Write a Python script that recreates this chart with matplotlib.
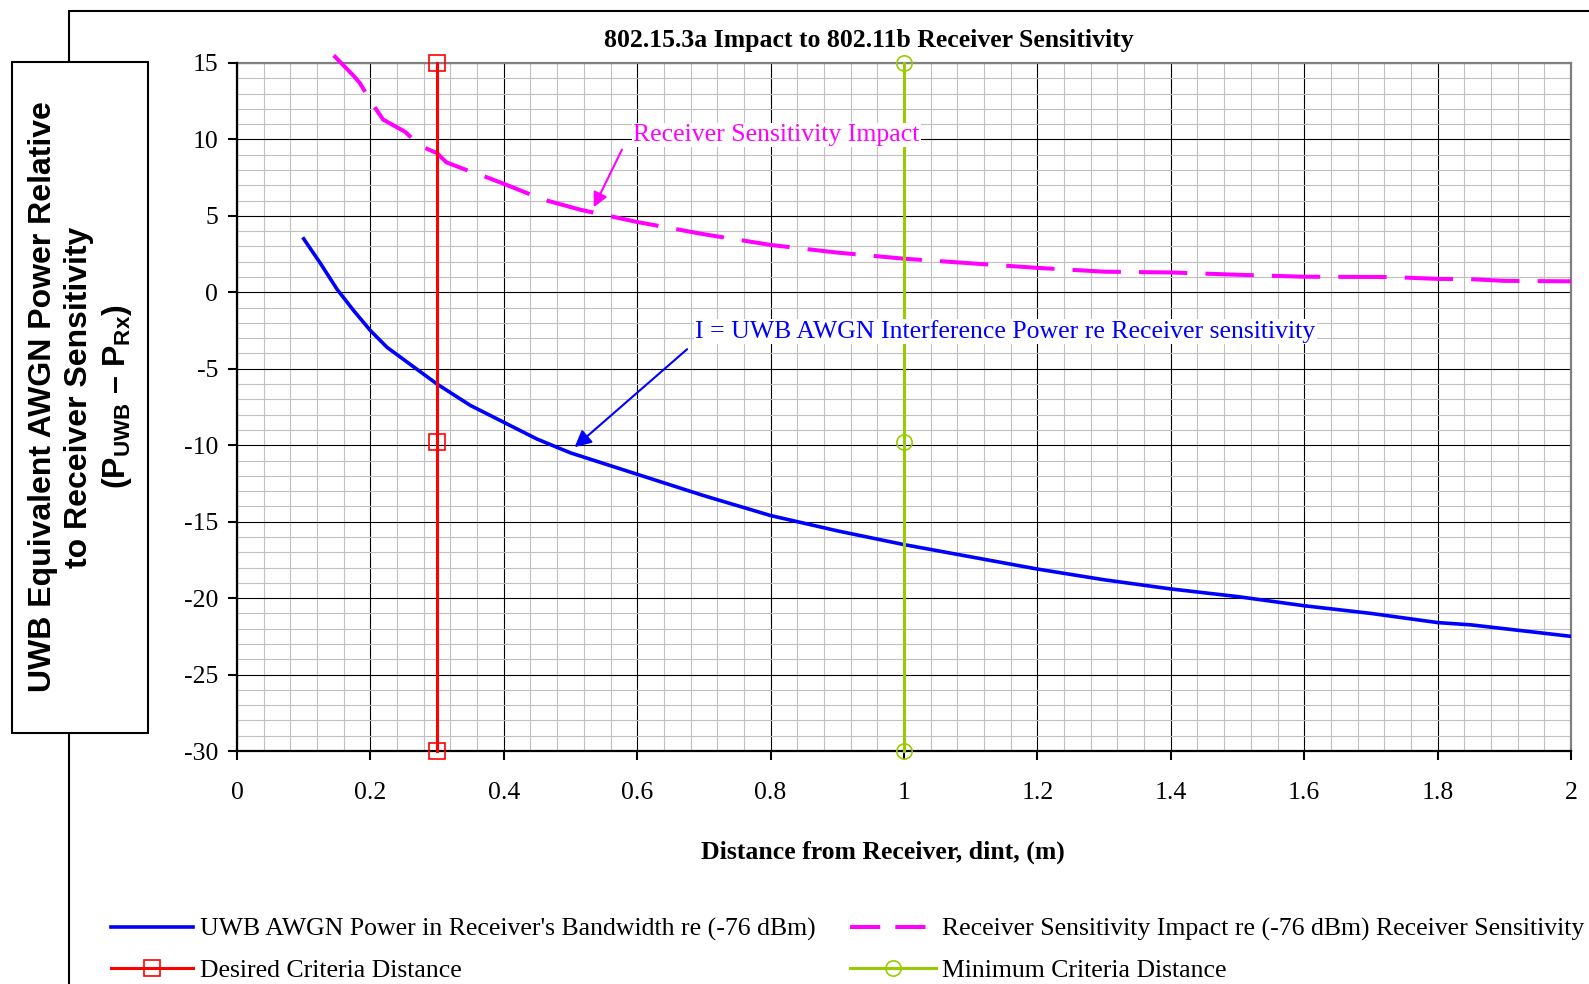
import numpy as np
import matplotlib
matplotlib.use('Agg')
import matplotlib.pyplot as plt
from matplotlib.lines import Line2D
from matplotlib.patches import Rectangle

plt.rcParams['font.family'] = ['Liberation Serif', 'DejaVu Serif']
plt.rcParams['mathtext.fontset'] = 'custom'
plt.rcParams['mathtext.rm'] = 'Liberation Sans:bold'
plt.rcParams['axes.unicode_minus'] = False

# UWB AWGN interference power re receiver sensitivity (dB)
d_int = [0.1, 0.125, 0.15, 0.175, 0.2, 0.225, 0.25, 0.3, 0.35, 0.4, 0.45, 0.5,
         0.6, 0.7, 0.8, 0.9, 1.0, 1.1, 1.2, 1.3, 1.4, 1.5, 1.6, 1.7, 1.8, 1.85,
         1.9, 2.0]
p_int = [3.5, 1.9, 0.2, -1.2, -2.5, -3.6, -4.4, -6.0, -7.4, -8.5, -9.6, -10.5,
         -11.9, -13.3, -14.6, -15.6, -16.5, -17.3, -18.1, -18.8, -19.4, -19.9,
         -20.5, -21.0, -21.6, -21.75, -22.0, -22.5]

# receiver sensitivity impact (dB)
d_imp = [0.145, 0.174, 0.184, 0.202, 0.219, 0.252, 0.274, 0.3, 0.314, 0.344,
         0.364, 0.4, 0.44, 0.465, 0.515, 0.6, 0.7, 0.8, 0.9, 1.0, 1.1, 1.2,
         1.3, 1.4, 1.5, 1.6, 1.73, 1.8, 1.85, 1.9, 2.0]
imp = [15.5, 14.2, 13.7, 12.4, 11.3, 10.5, 9.6, 9.1, 8.5, 8.0, 7.7, 7.1, 6.4,
       6.0, 5.4, 4.6, 3.8, 3.1, 2.6, 2.2, 1.9, 1.6, 1.35, 1.3, 1.15, 1.02,
       1.0, 0.88, 0.86, 0.75, 0.72]

# criteria distances
desired_x = [0.3, 0.3, 0.3]
desired_y = [15, -9.8, -30]
minimum_x = [1.0, 1.0, 1.0]
minimum_y = [15, -9.8, -30]

W, H = 1589, 984
FS = 18.5
fig = plt.figure(figsize=(W / 100, H / 100), dpi=100)

# chart area frame and y-label box
fig.patches.append(Rectangle((69 / W, -0.1), 1.2, 1.1 - 11 / H, transform=fig.transFigure,
                             fill=False, edgecolor='black', lw=1.5, zorder=0))
fig.patches.append(Rectangle((12 / W, 1 - 733 / H), 136 / W, 671 / H, transform=fig.transFigure,
                             facecolor='white', edgecolor='black', lw=1.5, zorder=1))

ax = fig.add_axes([237 / W, 1 - 751 / H, 1334 / W, 688 / H])
ax.set_xlim(0, 2)
ax.set_ylim(-30, 15)
ax.set_xticks(np.arange(0, 2.01, 0.2))
ax.set_xticklabels(['0', '0.2', '0.4', '0.6', '0.8', '1', '1.2', '1.4', '1.6', '1.8', '2'])
ax.set_yticks(np.arange(-30, 16, 5))
ax.set_xticks(np.arange(0, 2.001, 0.04), minor=True)
ax.set_yticks(np.arange(-30, 16, 1), minor=True)
ax.grid(which='minor', color='#c0c0c0', lw=0.8, zorder=0)
ax.grid(which='major', color='black', lw=0.8, zorder=0.5)
ax.set_axisbelow(True)
ax.tick_params(which='major', direction='out', length=6.5, width=1.5, labelsize=FS)
ax.tick_params(axis='x', pad=16)
ax.tick_params(axis='y', pad=7)
ax.tick_params(which='minor', length=0)
for s in ['left', 'bottom']:
    ax.spines[s].set_linewidth(1.6)
    ax.spines[s].set_zorder(3)
for s in ['top', 'right']:
    ax.spines[s].set_color('#808080')
    ax.spines[s].set_linewidth(1.6)

ax.plot(d_int, p_int, color='#0000ff', lw=2.6, zorder=4)
ax.plot(d_imp, imp, color='#ff00ff', lw=2.9, ls=(0, (12, 4.5)), clip_on=False, zorder=4)
ax.plot(desired_x, desired_y, color='#ff0000', lw=2.2, marker='s', ms=11, mfc='none',
        mec='#ff0000', mew=1.2, clip_on=False, zorder=5)
ax.plot(minimum_x, minimum_y, color='#99cc00', lw=2.2, marker='o', ms=11, mfc='none',
        mec='#99cc00', mew=1.2, clip_on=False, zorder=5)

# annotations
ax.text(0.594, 10.3, 'Receiver Sensitivity Impact', color='#ff00ff', fontsize=FS,
        va='center', ha='left', zorder=6,
        bbox=dict(facecolor='white', edgecolor='none', pad=1))
ax.annotate('', xy=(0.533, 5.4), xytext=(0.579, 9.5), zorder=6,
            arrowprops=dict(arrowstyle='-|>', color='#ff00ff', lw=1.5, mutation_scale=22))
ax.text(0.687, -2.56, 'I = UWB AWGN Interference Power re Receiver sensitivity',
        color='#0000ff', fontsize=FS, va='center', ha='left', zorder=6,
        bbox=dict(facecolor='white', edgecolor='none', pad=1))
ax.annotate('', xy=(0.503, -10.25), xytext=(0.678, -3.6), zorder=6,
            arrowprops=dict(arrowstyle='-|>', color='#0000ff', lw=1.5, mutation_scale=25))

# titles
fig.text(869 / W, 1 - 40.5 / H, '802.15.3a Impact to 802.11b Receiver Sensitivity',
         fontsize=FS, fontweight='bold', ha='center', va='center')
fig.text(883 / W, 1 - 852 / H, 'Distance from Receiver, dint, (m)',
         fontsize=FS, fontweight='bold', ha='center', va='center')
ylab = dict(rotation=90, ha='center', va='center', fontsize=23, fontweight='bold',
            family='Liberation Sans', zorder=2)
fig.text(42.6 / W, 1 - 397 / H, 'UWB Equivalent AWGN Power Relative', **ylab)
fig.text(79 / W, 1 - 397 / H, 'to Receiver Sensitivity', **ylab)
fig.text(116.5 / W, 1 - 397 / H, r'(P$_{\mathrm{UWB}}$ – P$_{\mathrm{Rx}}$)', **ylab)

# legend
h1 = [Line2D([], [], color='#0000ff', lw=2.6),
      Line2D([], [], color='#ff0000', lw=2.2, marker='s', ms=11, mfc='none', mew=1.2)]
l1 = ["UWB AWGN Power in Receiver's Bandwidth re (-76 dBm)", 'Desired Criteria Distance']
h2 = [Line2D([], [], color='#ff00ff', lw=2.9, ls=(0, (7.5, 3.75))),
      Line2D([], [], color='#99cc00', lw=2.2, marker='o', ms=11, mfc='none', mew=1.2)]
l2 = ['Receiver Sensitivity Impact re (-76 dBm) Receiver Sensitivity', 'Minimum Criteria Distance']
leg_kw = dict(loc='upper left', frameon=False, fontsize=FS, borderpad=0, borderaxespad=0,
              labelspacing=0.68, numpoints=1)
fig.legend(h1, l1, bbox_to_anchor=(111 / W, 1 - 918 / H), handlelength=3.2,
           handletextpad=0.25, **leg_kw)
fig.legend(h2, l2, bbox_to_anchor=(850 / W, 1 - 918 / H), handlelength=3.35,
           handletextpad=0.25, **leg_kw)

fig.savefig('out.png', dpi=100)
